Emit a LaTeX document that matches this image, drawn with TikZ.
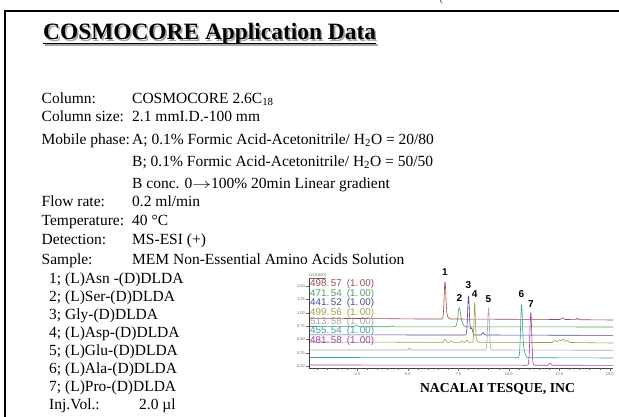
\documentclass[tikz,border=0pt]{standalone}
\usepackage{fontspec}
\usepackage{graphicx}
\setmainfont{Liberation Serif}
\setsansfont{Liberation Sans}
\definecolor{cR}{HTML}{A04848}
\definecolor{cG}{HTML}{48A064}
\definecolor{cB}{HTML}{4A4A94}
\definecolor{cO}{HTML}{A0A040}
\definecolor{cY}{HTML}{A8A8A8}
\definecolor{cT}{HTML}{3FA0A0}
\definecolor{cP}{HTML}{A040A0}
\newcommand\ttltext{COSMOCORE Application Data}
\begin{document}
\begin{tikzpicture}[x=1pt,y=-1pt,
  lab/.style={anchor=base west, inner sep=0pt, font=\fontsize{15.5}{17}\selectfont},
  leg/.style={anchor=west, inner sep=0pt, font=\sffamily\fontsize{9.8}{10}\selectfont},
  pk/.style={inner sep=0pt, font=\sffamily\bfseries\fontsize{10}{10}\selectfont},
  tk/.style={inner sep=0pt, font=\sffamily\fontsize{4}{4}\selectfont, text=black!60},
  trace/.style={line width=0.6pt, line join=round},
  ttl/.style={anchor=base west, inner sep=0pt, font=\bfseries\fontsize{23.4}{28}\selectfont}]
\useasboundingbox (0,0) rectangle (619,417);
% frame
\draw[line width=1.2pt] (619,11) -- (5,11) -- (5,417);
\node[anchor=base, inner sep=0pt, font=\fontsize{12}{12}\selectfont, text=black!70] (frag) at (441,2) {(};
% title with shadow (one text node)
\node[ttl] (title) at (43,40) {\rlap{\hspace{1.6pt}\raisebox{-1.6pt}{\textcolor{black!35}{\ttltext}}}\ttltext};
\draw[line width=1.5pt, black!35] ([xshift=1.6pt,yshift=-5.1pt]title.base west) -- ([xshift=1.6pt,yshift=-5.1pt]title.base east);
\draw[line width=1.5pt] ([yshift=-3.5pt]title.base west) -- ([yshift=-3.5pt]title.base east);
% conditions
\node[lab] (l1) at (41.5,103.5) {Column:};
\node[lab] (v1) at (132,103.5) {COSMOCORE 2.6C\textsubscript{18}};
\node[lab] (l2) at (41.5,121.8) {Column size:};
\node[lab] (v2) at (132,121.8) {2.1 mmI.D.-100 mm};
\node[lab] (l3) at (41.5,144.2) {Mobile phase:};
\node[lab] (v3) at (132,144.2) {A; 0.1\% Formic Acid-Acetonitrile/ H\textsubscript{2}O = 20/80};
\node[lab] (v4) at (132,166.2) {B; 0.1\% Formic Acid-Acetonitrile/ H\textsubscript{2}O = 50/50};
\node[lab] (v5) at (132,188.5) {B conc. 0\scalebox{1.3}[1]{$\rightarrow$}100\% 20min Linear gradient};
\node[lab] (l6) at (41.5,206.3) {Flow rate:};
\node[lab] (v6) at (132,206.3) {0.2 ml/min};
\node[lab] (l7) at (41.5,225.2) {Temperature:};
\node[lab] (v7) at (132,225.2) {40 °C};
\node[lab] (l8) at (41.5,244.2) {Detection:};
\node[lab] (v8) at (132,244.2) {MS-ESI (+)};
\node[lab] (l9) at (41.5,264) {Sample:};
\node[lab] (v9) at (132,264) {MEM Non-Essential Amino Acids Solution};
\node[lab] (s1) at (49,283.5) {1; (L)Asn -(D)DLDA};
\node[lab] (s2) at (49,301.5) {2; (L)Ser-(D)DLDA};
\node[lab] (s3) at (49,319.5) {3; Gly-(D)DLDA};
\node[lab] (s4) at (49,337.5) {4; (L)Asp-(D)DLDA};
\node[lab] (s5) at (49,355.5) {5; (L)Glu-(D)DLDA};
\node[lab] (s6) at (49,373.5) {6; (L)Ala-(D)DLDA};
\node[lab] (s7) at (49,391.5) {7; (L)Pro-(D)DLDA};
\node[lab] (l10) at (49,409.5) {Inj.Vol.:};
\node[lab] (v10) at (139,409.5) {2.0 µl};
% chromatogram traces
\draw[trace,cR] (309,318.3) -- (380,318.6) -- (420,319) -- (440,319)
  -- plot[domain=440:451,samples=45] (\x,{319-36.7*exp(-((\x-445)/1.2)^2)-3*exp(-((\x-447)/1.5)^2)})
  -- (560,319.5) -- (563,317.8) -- (565,319.5) -- (576,319.6) -- (577.5,318) -- (579,319.7) -- (613,320);
\draw[trace,cG] (309,326.5) -- (354,326.7) -- (356.5,325.3) -- (359,326.7) -- (390,326.7) -- (392,325.8) -- (394,326.8) -- (453,326.8)
  -- plot[domain=453:467,samples=57] (\x,{326.8-19*exp(-((\x-459.3)/1.9)^2)-3*exp(-((\x-462.5)/1.5)^2)})
  -- (613,327);
\draw[trace,cB] (309,334.8) -- (440,335) -- (463,335)
  -- plot[domain=463:476,samples=53] (\x,{335-39*exp(-((\x-468.5)/1.2)^2)-7*exp(-((\x-471.5)/1.4)^2)})
  -- (481,335) -- (483,332.5) -- (485,335) -- (613,335.4);
\draw[trace,cO] (309,342) -- (440,342.3)
  -- plot[domain=440:470,samples=80] (\x,{342.3-3*exp(-((\x-445)/1.2)^2)-1.5*exp(-((\x-451)/1)^2)-1.5*exp(-((\x-462)/1)^2)-2*exp(-((\x-467)/1)^2)})
  -- plot[domain=470:480,samples=41] (\x,{342.3-39.6*exp(-((\x-474.7)/0.9)^2)-3*exp(-((\x-476.5)/1)^2)})
  -- (552,342.5) -- (555,340.5) -- (557,342) -- (559.5,339.5) -- (561,341) -- (563,339) -- (565,341.5) -- (567,340.5) -- (570,342.5) -- (613,343);
\draw[trace,cY] (309,350) -- (408,350) -- (409.5,347.8) -- (411,350) -- (483,350)
  -- plot[domain=483:494,samples=45] (\x,{350-42.3*exp(-((\x-488.5)/1.2)^2)})
  -- (613,350.3);
\draw[trace,cT] (309,357.5) -- (514,357.7)
  -- plot[domain=514:529,samples=61] (\x,{357.7-50*exp(-((\x-521.5)/1.3)^2)-8*exp(-((\x-523.5)/2)^2)})
  -- (613,358);
\draw[trace,cP] (309,365) -- (524,365.2)
  -- plot[domain=524:537,samples=53] (\x,{365.2-52.9*exp(-((\x-530.8)/1.3)^2)})
  -- (548,365.2) -- (550,363.3) -- (552,365.2) -- (613,365.4);
% axes
\draw[line width=0.6pt, black!75] (309,279) -- (309,368) -- (613,368);
\foreach \v/\yy in {0.00/366,0.25/352.7,0.50/339.4,0.75/326.1,1.00/312.8,1.25/299.5,1.50/286.2}{
  \draw[line width=0.4pt, black!60] (306,\yy) -- (309,\yy);
  \node[tk, anchor=east] at (305,\yy) {\v};
}
\foreach \t in {0.5,1,...,15}{
  \draw[line width=0.3pt, black!60] ({306.8+20.2*\t},368) -- ({306.8+20.2*\t},369.8);
}
\foreach \t/\l in {2.5/2.5,5/5.0,7.5/7.5,10/10.0,12.5/12.5,15/15.0}{
  \draw[line width=0.4pt, black!60] ({306.8+20.2*\t},368) -- ({306.8+20.2*\t},371);
  \node[tk] at ({306.8+20.2*\t},374) {\l};
}
\node[tk, anchor=south west] (scale) at (309,278) {(x10,000)};
\draw[line width=0.3pt, black!60] (scale.south west) -- (scale.south east);
% legend
\node[leg, text=cR] (g1) at (310,284.3) {498.\,57\hspace{5pt}(1.\,00)};
\node[leg, text=cG] (g2) at (310,293.7) {471.\,54\hspace{5pt}(1.\,00)};
\node[leg, text=cB] (g3) at (310,303.2) {441.\,52\hspace{5pt}(1.\,00)};
\node[leg, text=cO] (g4) at (310,312.5) {499.\,56\hspace{5pt}(1.\,00)};
\node[leg, text=cY] (g5) at (310,321.8) {513.\,58\hspace{5pt}(1.\,00)};
\node[leg, text=cT] (g6) at (310,331.2) {455.\,54\hspace{5pt}(1.\,00)};
\node[leg, text=cP] (g7) at (310,340.7) {481.\,58\hspace{5pt}(1.\,00)};
% peak labels
\node[pk] (p1) at (445,272.3) {1};
\node[pk] (p2) at (459.3,297.7) {2};
\node[pk] (p3) at (468.5,285) {3};
\node[pk] (p4) at (474.7,293.7) {4};
\node[pk] (p5) at (488.5,299) {5};
\node[pk] (p6) at (521.5,293.7) {6};
\node[pk] (p7) at (530.8,304) {7};
% company
\node[inner sep=0pt, font=\bfseries\fontsize{13.7}{16}\selectfont] (co) at (497.5,389.5) {NACALAI TESQUE, INC};
\end{tikzpicture}
\end{document}
